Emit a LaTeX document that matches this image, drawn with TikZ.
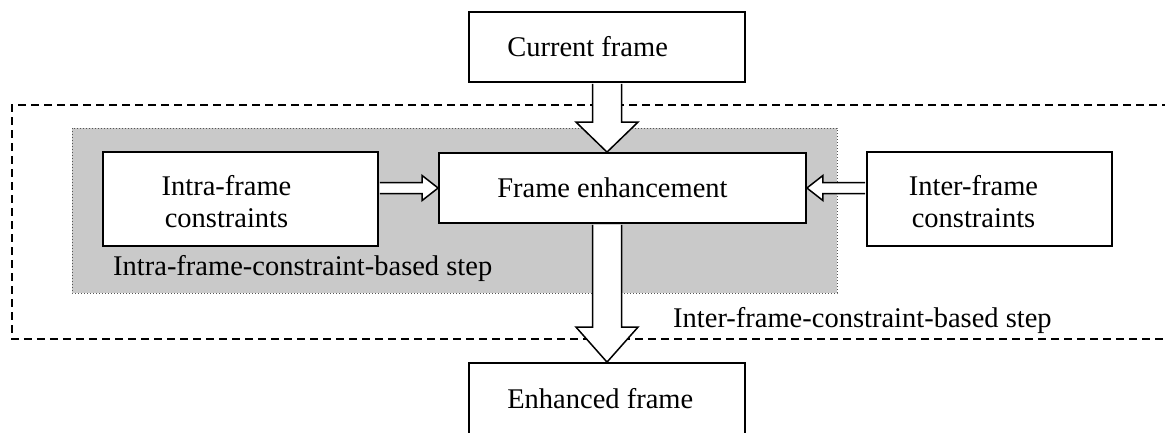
\documentclass[tikz,border=0pt]{standalone}
\usepackage{fontspec}
\setmainfont{Liberation Serif}
\usetikzlibrary{calc}
\definecolor{panelgray}{RGB}{201,201,201}
\definecolor{edgegray}{RGB}{85,85,85}

\begin{document}
\begin{tikzpicture}[x=1pt,y=-1pt,
  box/.style={draw=black, line width=1.8pt, fill=white, inner sep=0pt},
  lbl/.style={font=\fontsize{28.5}{32}\selectfont, inner sep=0pt, align=center},
  blk/.style={draw=black, line width=1.5pt, fill=white, line join=miter},
  outer/.style={draw=black, line width=1.3pt, dash pattern=on 8pt off 5pt},
  panel/.style={draw=edgegray, line width=1pt, dotted, fill=panelgray}]

\useasboundingbox (0,0) rectangle (1165,432);
\clip (0,0) rectangle (1165,432);

% outer (inter-frame) region, open on the right
\draw[outer] (1170,105) -- (12,105) -- (12,339) -- (1170,339);
% inner (intra-frame) shaded region
\path[panel] (72,128) rectangle (837,293);

% boxes
\node[box, minimum width=276, minimum height=70] (cur)   at (607,47)    {};
\node[box, minimum width=367, minimum height=70] (fe)    at (622.5,188) {};
\node[box, minimum width=275, minimum height=94] (intra) at (240.5,199) {};
\node[box, minimum width=245, minimum height=94] (inter) at (989.5,199) {};
\node[box, minimum width=276, minimum height=71] (enh)   at (607,398.5) {};

% box texts
\node[lbl, anchor=west] (curtxt) at ([xshift=39]cur.west) {Current frame};
\node[lbl, anchor=west] (fetxt)  at ([xshift=59]fe.west)  {Frame enhancement};
\node[lbl, anchor=west] (enhtxt) at ([xshift=39]enh.west) {Enhanced frame};
\node[lbl] (intratxt) at ([shift={(-14,3)}]intra.center) {Intra-frame\\constraints};
\node[lbl] (intertxt) at ([shift={(-16,3)}]inter.center) {Inter-frame\\constraints};

% region captions
\node[lbl, anchor=base west] (intracap) at (113,275) {Intra-frame-constraint-based step};
\node[lbl, anchor=base west] (intercap) at (673,327) {Inter-frame-constraint-based step};

% block arrows
\draw[blk] let \p1=(cur.south), \p2=(fe.north) in
  (\x1-14.5pt,\y1-1pt) -- (\x1-14.5pt,\y2+30pt) -- (\x1-31pt,\y2+30pt) -- (\x1,\y2)
  -- (\x1+31pt,\y2+30pt) -- (\x1+14.5pt,\y2+30pt) -- (\x1+14.5pt,\y1-1pt);
\draw[blk] let \p1=(fe.south), \p2=(enh.north) in
  (\x2-14.5pt,\y1-1pt) -- (\x2-14.5pt,\y2+35pt) -- (\x2-31pt,\y2+35pt) -- (\x2,\y2)
  -- (\x2+31pt,\y2+35pt) -- (\x2+14.5pt,\y2+35pt) -- (\x2+14.5pt,\y1-1pt);
\draw[blk] let \p1=(intra.east), \p2=(fe.west) in
  (\x1+1pt,\y2+5.5pt) -- (\x2-16pt,\y2+5.5pt) -- (\x2-16pt,\y2+12.5pt) -- (\x2,\y2)
  -- (\x2-16pt,\y2-12.5pt) -- (\x2-16pt,\y2-5.5pt) -- (\x1+1pt,\y2-5.5pt);
\draw[blk] let \p1=(inter.west), \p2=(fe.east) in
  (\x1-1pt,\y2+5.5pt) -- (\x2+16pt,\y2+5.5pt) -- (\x2+16pt,\y2+12.5pt) -- (\x2,\y2)
  -- (\x2+16pt,\y2-12.5pt) -- (\x2+16pt,\y2-5.5pt) -- (\x1-1pt,\y2-5.5pt);
\end{tikzpicture}
\end{document}
